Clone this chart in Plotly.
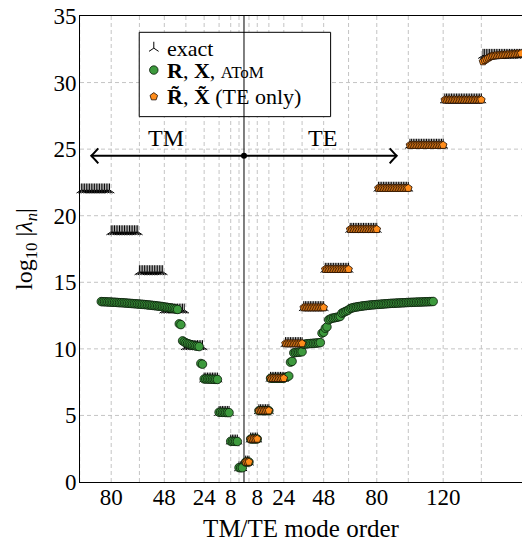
import plotly.graph_objects as go

# ---------------- data ----------------
# number of degenerate modes in each degree block n = 1..12
block_sizes = [3, 5, 7, 9, 11, 13, 15, 17, 19, 21, 23, 25]

# exact log10|lambda| levels of each block
tm_exact_levels = [1.07, 3.08, 5.23, 7.74, 10.17, 12.92, 15.80, 18.80, 21.94]
te_exact_levels = [1.50, 3.23, 5.36, 7.79, 10.40, 13.10, 15.98, 18.98, 22.07, 25.30, 28.70, 32.05]

# AToM (R, X) values, TM modes order 1..86
tm_atom = [1.07, 1.07, 1.08,
           3.04, 3.05, 3.05, 3.06, 3.06,
           5.21, 5.22, 5.22, 5.23, 5.23, 5.24, 5.24,
           7.70, 7.71, 7.71, 7.72, 7.72, 7.73, 7.73, 7.74, 7.74,
           8.85, 8.90,
           10.17, 10.20, 10.22, 10.25, 10.28, 10.32, 10.36, 10.40, 10.45, 10.52, 10.60,
           11.82, 11.88,
           12.96, 12.99, 13.02, 13.05, 13.07, 13.09, 13.11, 13.13, 13.15, 13.17,
           13.19, 13.20, 13.22, 13.23, 13.25, 13.26, 13.28, 13.29, 13.30, 13.32,
           13.33, 13.34, 13.35, 13.36, 13.37, 13.38, 13.39, 13.40, 13.41, 13.42,
           13.43, 13.44, 13.45, 13.46, 13.47, 13.47, 13.48, 13.49, 13.50, 13.50,
           13.51, 13.52, 13.52, 13.53, 13.54, 13.54, 13.55]

# AToM (R, X) values, TE modes order 1..114
te_atom = [1.50, 1.50, 1.50,
           3.23, 3.23, 3.23, 3.23, 3.23,
           5.36, 5.36, 5.36, 5.36, 5.36, 5.36, 5.36,
           7.79, 7.79, 7.79, 7.79, 7.79, 7.79, 7.79, 7.79, 7.79,
           7.86, 7.91, 7.96,
           9.00, 9.06,
           9.70, 9.72, 9.74, 9.75, 9.77, 9.78,
           10.34, 10.36, 10.38, 10.39, 10.40, 10.41, 10.42, 10.43, 10.44, 10.45, 10.47,
           11.18, 11.25,
           11.55, 11.65,
           12.18, 12.24,
           12.30, 12.32, 12.35, 12.37, 12.40, 12.44,
           12.68, 12.74, 12.80, 12.86, 12.92,
           13.03, 13.07, 13.10, 13.13, 13.15, 13.17, 13.19, 13.21, 13.23, 13.24,
           13.26, 13.27, 13.29, 13.30, 13.31, 13.32, 13.33, 13.34, 13.35, 13.36,
           13.37, 13.38, 13.39, 13.40, 13.41, 13.42, 13.42, 13.43, 13.44, 13.44,
           13.45, 13.46, 13.46, 13.47, 13.48, 13.48, 13.49, 13.49, 13.50, 13.50,
           13.51, 13.51, 13.52, 13.52, 13.53, 13.53, 13.54, 13.54, 13.55, 13.55, 13.56]

# TE-only (R~, X~) values of the last block (orders 144..168); other blocks equal exact
te_only_last_block = [31.58, 31.68, 31.77, 31.85, 31.92, 31.98, 32.00, 32.02, 32.03, 32.04,
                      32.05, 32.06, 32.07, 32.08, 32.09, 32.10, 32.11, 32.12, 32.13, 32.14,
                      32.15, 32.16, 32.17, 32.18, 32.19]

tm_tick_orders = [80, 48, 24, 8]
te_tick_orders = [8, 24, 48, 80, 120]
y_ticks = [0, 5, 10, 15, 20, 25, 30, 35]

legend_labels = ["exact",
                 "<b>R</b>, <b>X</b>, <span style='font-size:17px'>AToM</span>",
                 "<b>R\u0303</b>, <b>X\u0303</b> (TE only)"]

arrow_level = 24.5
arrow_reach = 92
tm_label_pos = -47
te_label_pos = 47

X_RANGE = [-98.8, 167.5]
Y_RANGE = [0, 35]

# ---------------- helpers ----------------
def expand(levels):
    out = []
    for size, lev in zip(block_sizes, levels):
        out += [lev] * size
    return out

tm_exact = expand(tm_exact_levels)
te_exact = expand(te_exact_levels)
te_only = expand(te_exact_levels[:-1]) + te_only_last_block

boundaries = []
acc = 0
for s in block_sizes:
    acc += s
    boundaries.append(acc)

# draw left to right
exact_x = [-k for k in range(len(tm_exact), 0, -1)] + list(range(1, len(te_exact) + 1))
exact_y = tm_exact[::-1] + te_exact
atom_x = [-k for k in range(len(tm_atom), 0, -1)] + list(range(1, len(te_atom) + 1))
atom_y = tm_atom[::-1] + te_atom
teo_x = list(range(1, len(te_only) + 1))
teo_y = te_only

FONT = "Liberation Serif"
GRID = "#c4c4c4"
DASH = "4px,3px"

marker_styles = [
    dict(symbol="y-up", size=8, color="black", line=dict(width=1, color="black")),
    dict(symbol="circle", size=8.5, color="#3d9a3d", line=dict(width=0.8, color="#0a1a0a")),
    dict(symbol="pentagon", size=8, color="#ff8c1a", line=dict(width=0.8, color="#1a0a00")),
]

fig = go.Figure()
fig.add_trace(go.Scatter(x=exact_x, y=exact_y, mode="markers", name="exact",
                         cliponaxis=False, showlegend=False, marker=marker_styles[0]))
fig.add_trace(go.Scatter(x=atom_x, y=atom_y, mode="markers", name="R, X, AToM",
                         cliponaxis=False, showlegend=False, marker=marker_styles[1]))
fig.add_trace(go.Scatter(x=teo_x, y=teo_y, mode="markers", name="R~, X~ (TE only)",
                         cliponaxis=False, showlegend=False, marker=marker_styles[2]))

# ---- legend box (plot-fraction units) ----
leg_x0, leg_x1, leg_y0, leg_y1 = 0.134, 0.567, 0.784, 0.965
leg_sym_x = 0.167
leg_txt_x = 0.192
leg_rows = [0.931, 0.884, 0.827]

def fx(f):
    return X_RANGE[0] + f * (X_RANGE[1] - X_RANGE[0])

def fy(f):
    return Y_RANGE[0] + f * (Y_RANGE[1] - Y_RANGE[0])

for i, ms in enumerate(marker_styles):
    fig.add_trace(go.Scatter(x=[fx(leg_sym_x)], y=[fy(leg_rows[i])], mode="markers", marker=ms,
                             showlegend=False, hoverinfo="skip", cliponaxis=False))

grid_x = [-b for b in boundaries[:9]] + boundaries
tickvals = [-t for t in tm_tick_orders] + te_tick_orders
ticktext = [str(t) for t in tm_tick_orders] + [str(t) for t in te_tick_orders]

shapes = []
# dashed grid (as shapes so that the legend box can cover it)
for gx in grid_x:
    shapes.append(dict(type="line", xref="x", yref="y domain", x0=gx, x1=gx, y0=0, y1=1,
                       line=dict(color=GRID, width=1, dash=DASH), layer="below"))
for gy in y_ticks[1:-1]:
    shapes.append(dict(type="line", xref="x domain", yref="y", x0=0, x1=1, y0=gy, y1=gy,
                       line=dict(color=GRID, width=1, dash=DASH), layer="below"))
shapes += [
    dict(type="line", x0=0, x1=0, y0=0, y1=35, xref="x", yref="y",
         line=dict(color="black", width=1), layer="below"),
    dict(type="rect", xref="x domain", yref="y domain", x0=leg_x0, x1=leg_x1, y0=leg_y0, y1=leg_y1,
         fillcolor="white", line=dict(color="black", width=1), layer="below"),
    dict(type="line", x0=-arrow_reach, x1=arrow_reach, y0=arrow_level, y1=arrow_level,
         xref="x", yref="y", line=dict(color="black", width=2), layer="above"),
    dict(type="path", xref="x", yref="y", xsizemode="pixel", ysizemode="pixel",
         xanchor=arrow_reach, yanchor=arrow_level,
         path="M -7,7.5 Q -2,2 0,0 Q -2,-2 -7,-7.5", line=dict(color="black", width=2)),
    dict(type="path", xref="x", yref="y", xsizemode="pixel", ysizemode="pixel",
         xanchor=-arrow_reach, yanchor=arrow_level,
         path="M 7,7.5 Q 2,2 0,0 Q 2,-2 7,-7.5", line=dict(color="black", width=2)),
    dict(type="circle", xref="x", yref="y", xsizemode="pixel", ysizemode="pixel",
         xanchor=0, yanchor=arrow_level, x0=-3, x1=3, y0=-3, y1=3,
         fillcolor="black", line=dict(color="black", width=0)),
]

annotations = [
    dict(x=tm_label_pos, y=arrow_level, text="TM", showarrow=False, xref="x", yref="y",
         yanchor="bottom", yshift=3, font=dict(family=FONT, size=24, color="black")),
    dict(x=te_label_pos, y=arrow_level, text="TE", showarrow=False, xref="x", yref="y",
         yanchor="bottom", yshift=3, font=dict(family=FONT, size=24, color="black")),
]
for i, lab in enumerate(legend_labels):
    annotations.append(dict(x=leg_txt_x, y=leg_rows[i], xref="x domain", yref="y domain", text=lab,
                            showarrow=False, xanchor="left", yanchor="middle",
                            font=dict(family=FONT, size=22, color="black")))

fig.update_layout(
    width=522, height=542,
    margin=dict(l=80, r=0, t=16, b=60),
    paper_bgcolor="white", plot_bgcolor="white",
    font=dict(family=FONT, size=23, color="black"),
    showlegend=False,
    xaxis=dict(range=X_RANGE, tickmode="array", tickvals=tickvals, ticktext=ticktext,
               showgrid=False, showline=True, mirror=True, linecolor="black", linewidth=1,
               zeroline=False, ticks="", ticklen=0, ticklabelstandoff=-6,
               tickfont=dict(family=FONT, size=23), automargin=False,
               title=dict(text="TM/TE mode order", font=dict(family=FONT, size=25), standoff=22)),
    yaxis=dict(range=Y_RANGE, tickmode="array", tickvals=y_ticks,
               showgrid=False, showline=True, mirror=False, linecolor="black", linewidth=1,
               zeroline=False, ticks="", ticklen=0, tickfont=dict(family=FONT, size=23),
               ticklabelstandoff=-2, automargin=False,
               title=dict(text="log<sub>10</sub> |<i>λ</i><sub><i>n</i></sub>|",
                          font=dict(family=FONT, size=24), standoff=14)),
    shapes=shapes, annotations=annotations,
)

fig.write_html("out.html")
